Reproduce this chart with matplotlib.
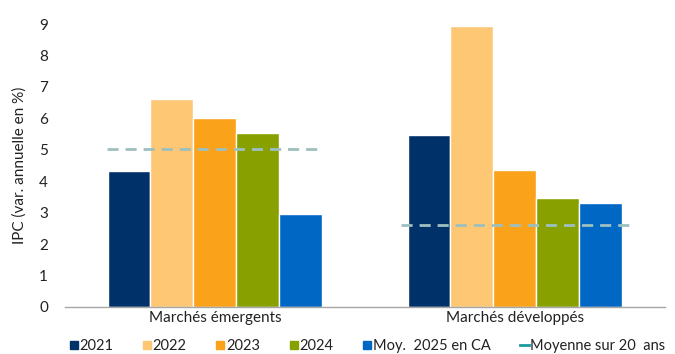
import matplotlib
matplotlib.use("Agg")
import matplotlib.pyplot as plt
from matplotlib.lines import Line2D
import numpy as np

plt.rcParams['font.family'] = ['Lato', 'DejaVu Sans']

categories = ["Marchés émergents", "Marchés développés"]
series_names = ["2021", "2022", "2023", "2024", "Moy.  2025 en CA"]
values = {
    "2021": [4.33, 5.48],
    "2022": [6.62, 8.95],
    "2023": [6.02, 4.36],
    "2024": [5.54, 3.47],
    "Moy.  2025 en CA": [2.96, 3.31],
}
avg_20y = [5.03, 2.61]
avg_label = "Moyenne sur 20  ans"
yticks = list(range(0, 10))

colors = ["#003168", "#FDC774", "#F9A21A", "#88A000", "#0067C5"]
avg_color = "#9DC0BF"
avg_legend_color = "#1A9AA0"

fig = plt.figure(figsize=(6.75, 3.54), dpi=100)
ax = fig.add_axes([0.096, 0.133, 0.889, 0.799])

x = np.arange(len(categories))
bw = 0.143
n = len(series_names)
for i, name in enumerate(series_names):
    offs = (i - (n - 1) / 2) * bw
    ax.bar(x + offs, values[name], width=bw, color=colors[i],
           edgecolor="white", linewidth=1.0, zorder=2)

half = [0.36, 0.38]
for xi, v, h in zip(x, avg_20y, half):
    ax.plot([xi - h, xi + h], [v, v], color=avg_color, lw=2,
            dashes=(4, 2.5), zorder=3)

fs = 11
ax.set_xlim(-0.5, 1.5)
ax.set_ylim(0, 9)
ax.set_yticks(yticks)
ax.set_xticks(x)
ax.set_xticklabels(categories, fontsize=fs, color="#222222")
ax.tick_params(axis="both", length=0, labelsize=fs, colors="#222222")
ax.tick_params(axis="y", pad=12)
ax.tick_params(axis="x", pad=3)
for s in ["top", "right", "left"]:
    ax.spines[s].set_visible(False)
ax.spines["bottom"].set_color("#A6A6A6")
ax.spines["bottom"].set_linewidth(1)
ax.set_ylabel("IPC (var. annuelle en %)", fontsize=fs, color="#222222", labelpad=9)

handles = [Line2D([], [], ls="none", marker="s", markersize=6,
                  markerfacecolor=c, markeredgecolor=c) for c in colors]
handles.append(Line2D([], [], color=avg_legend_color, lw=2))
labels = series_names + [avg_label]
fig.legend(handles, labels, loc="lower center", bbox_to_anchor=(0.544, -0.035),
           ncol=6, frameon=False, fontsize=10.5, handlelength=0.6,
           handletextpad=0.1, columnspacing=2.0, labelcolor="#222222")

fig.savefig("out.png", dpi=100)
